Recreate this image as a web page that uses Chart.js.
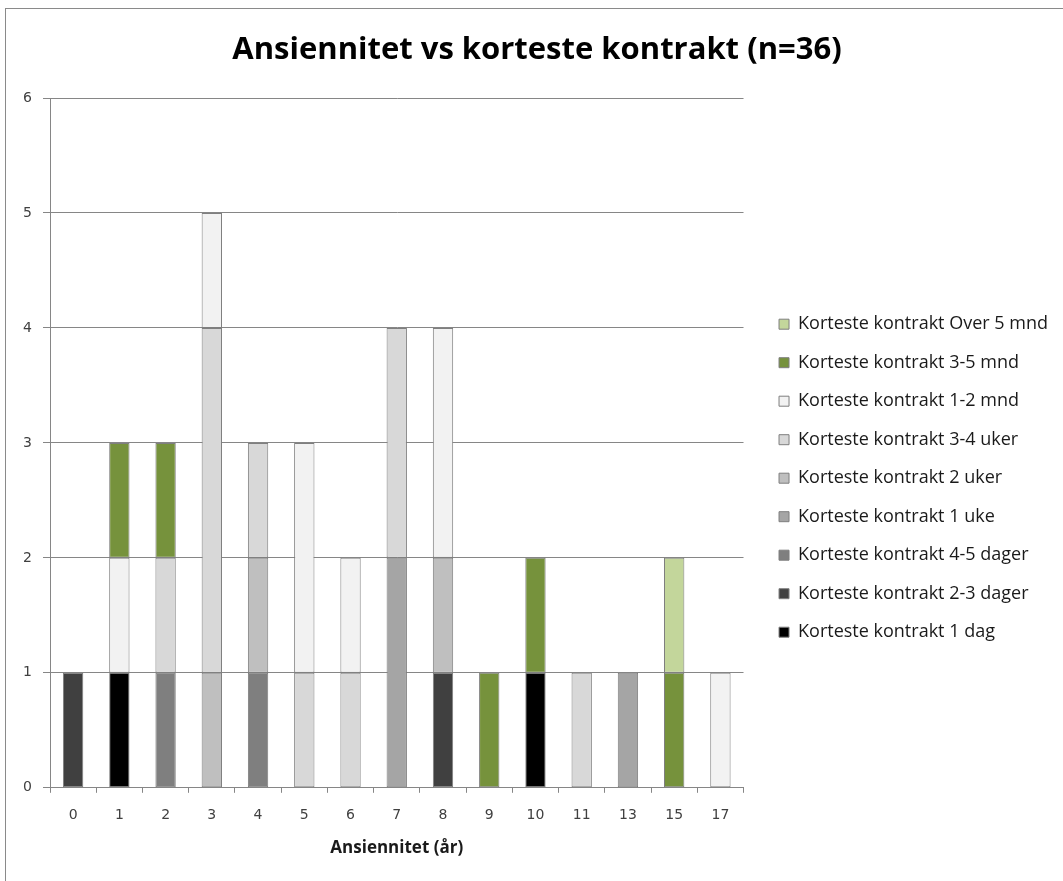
<!DOCTYPE html>
<html>
<head>
<meta charset="utf-8">
<script src="https://cdn.jsdelivr.net/npm/chart.js@4/dist/chart.umd.min.js"></script>
<style>
  html, body { margin: 0; padding: 0; background: #fff; overflow: hidden; }
  body { width: 1063px; height: 881px; position: relative; }
  #frame { position: absolute; left: 5px; top: 8px; width: 1080px; height: 900px;
           border: 1px solid #8a8a8a; box-sizing: border-box; background: #fff; }
  #chart { position: absolute; left: 6px; top: 9px; }
</style>
</head>
<body>
<div id="frame"></div>
<canvas id="chart" width="1066" height="873"></canvas>
<script>
// Ansiennitet (years) on the x axis
const categories = ['0', '1', '2', '3', '4', '5', '6', '7', '8', '9', '10', '11', '13', '15', '17'];

// Count of respondents per seniority, one array per shortest-contract group
const dag1     = [0, 1, 0, 0, 0, 0, 0, 0, 0, 0, 1, 0, 0, 0, 0];
const dager2_3 = [1, 0, 0, 0, 0, 0, 0, 0, 1, 0, 0, 0, 0, 0, 0];
const dager4_5 = [0, 0, 1, 0, 1, 0, 0, 0, 0, 0, 0, 0, 0, 0, 0];
const uke1     = [0, 0, 0, 0, 0, 0, 0, 2, 0, 0, 0, 0, 1, 0, 0];
const uker2    = [0, 0, 0, 1, 1, 0, 0, 0, 1, 0, 0, 0, 0, 0, 0];
const uker3_4  = [0, 0, 1, 3, 1, 1, 1, 2, 0, 0, 0, 1, 0, 0, 0];
const mnd1_2   = [0, 1, 0, 1, 0, 2, 1, 0, 2, 0, 0, 0, 0, 0, 1];
const mnd3_5   = [0, 1, 1, 0, 0, 0, 0, 0, 0, 1, 1, 0, 0, 1, 0];
const over5mnd = [0, 0, 0, 0, 0, 0, 0, 0, 0, 0, 0, 0, 0, 1, 0];

const seriesNames = [
  'Korteste kontrakt 1 dag',
  'Korteste kontrakt 2-3 dager',
  'Korteste kontrakt 4-5 dager',
  'Korteste kontrakt 1 uke',
  'Korteste kontrakt 2 uker',
  'Korteste kontrakt 3-4 uker',
  'Korteste kontrakt 1-2 mnd',
  'Korteste kontrakt 3-5 mnd',
  'Korteste kontrakt Over 5 mnd'
];
const seriesValues = [dag1, dager2_3, dager4_5, uke1, uker2, uker3_4, mnd1_2, mnd3_5, over5mnd];
const seriesColors = ['#000000', '#404040', '#7f7f7f', '#a5a5a5', '#bfbfbf', '#d8d8d8', '#f2f2f2', '#76923c', '#c3d69b'];

const yTicks = [0, 1, 2, 3, 4, 5, 6];

const datasets = seriesNames.map((name, i) => ({
  label: name,
  // empty groups are left out so they draw no border
  data: seriesValues[i].map(v => (v === 0 ? null : v)),
  backgroundColor: seriesColors[i],
  borderColor: '#7f7f7f',
  borderWidth: 1,
  borderSkipped: false,
  categoryPercentage: 1,
  barPercentage: 0.44,
  xAxisID: 'x',
  yAxisID: 'y'
}));

const gridColor = '#868686';

new Chart(document.getElementById('chart'), {
  type: 'bar',
  data: { labels: categories, datasets },
  options: {
    responsive: false,
    animation: false,
    layout: { padding: { left: 10, right: 14, top: 0, bottom: 12 } },
    plugins: {
      tooltip: { enabled: false },
      title: {
        display: true,
        text: 'Ansiennitet vs korteste kontrakt (n=36)',
        color: '#000',
        font: { family: 'Open Sans', size: 31, weight: 'bold' },
        padding: { top: 23, bottom: 28.8 }
      },
      legend: {
        position: 'right',
        reverse: true,
        maxWidth: 340,
        title: { display: true, text: '', font: { size: 12 }, padding: { top: 0, bottom: 63 } },
        labels: {
          color: '#1a1a1a',
          font: { family: 'Open Sans', size: 18 },
          boxWidth: 10,
          boxHeight: 10,
          padding: 20.5
        }
      }
    },
    scales: {
      x: {
        stacked: true,
        grid: { display: true, offset: true, drawOnChartArea: false, drawTicks: true,
                tickLength: 5, color: gridColor },
        border: { display: true, color: gridColor },
        ticks: { color: '#404040', font: { family: 'DejaVu Sans', size: 14 }, padding: 14,
                 maxRotation: 0, autoSkip: false },
        title: { display: true, text: 'Ansiennitet (år)', color: '#1a1a1a',
                 font: { family: 'Open Sans', size: 17, weight: 'bold' },
                 padding: { top: 0, bottom: 12 } }
      },
      y: {
        stacked: true,
        min: yTicks[0],
        max: yTicks[yTicks.length - 1],
        afterBuildTicks: axis => { axis.ticks = yTicks.map(v => ({ value: v })); },
        afterFit: axis => { axis.width = 34; },
        grid: { color: gridColor, tickLength: 7 },
        border: { display: true, color: gridColor },
        ticks: { color: '#404040', font: { family: 'DejaVu Sans', size: 14 }, padding: 11 }
      },
      // blank spacer between the plot and the legend
      gap: {
        type: 'linear',
        position: 'right',
        display: true,
        grid: { display: false },
        border: { display: false },
        ticks: { display: false },
        afterFit: axis => { axis.width = 15; }
      }
    }
  }
});
</script>
</body>
</html>
